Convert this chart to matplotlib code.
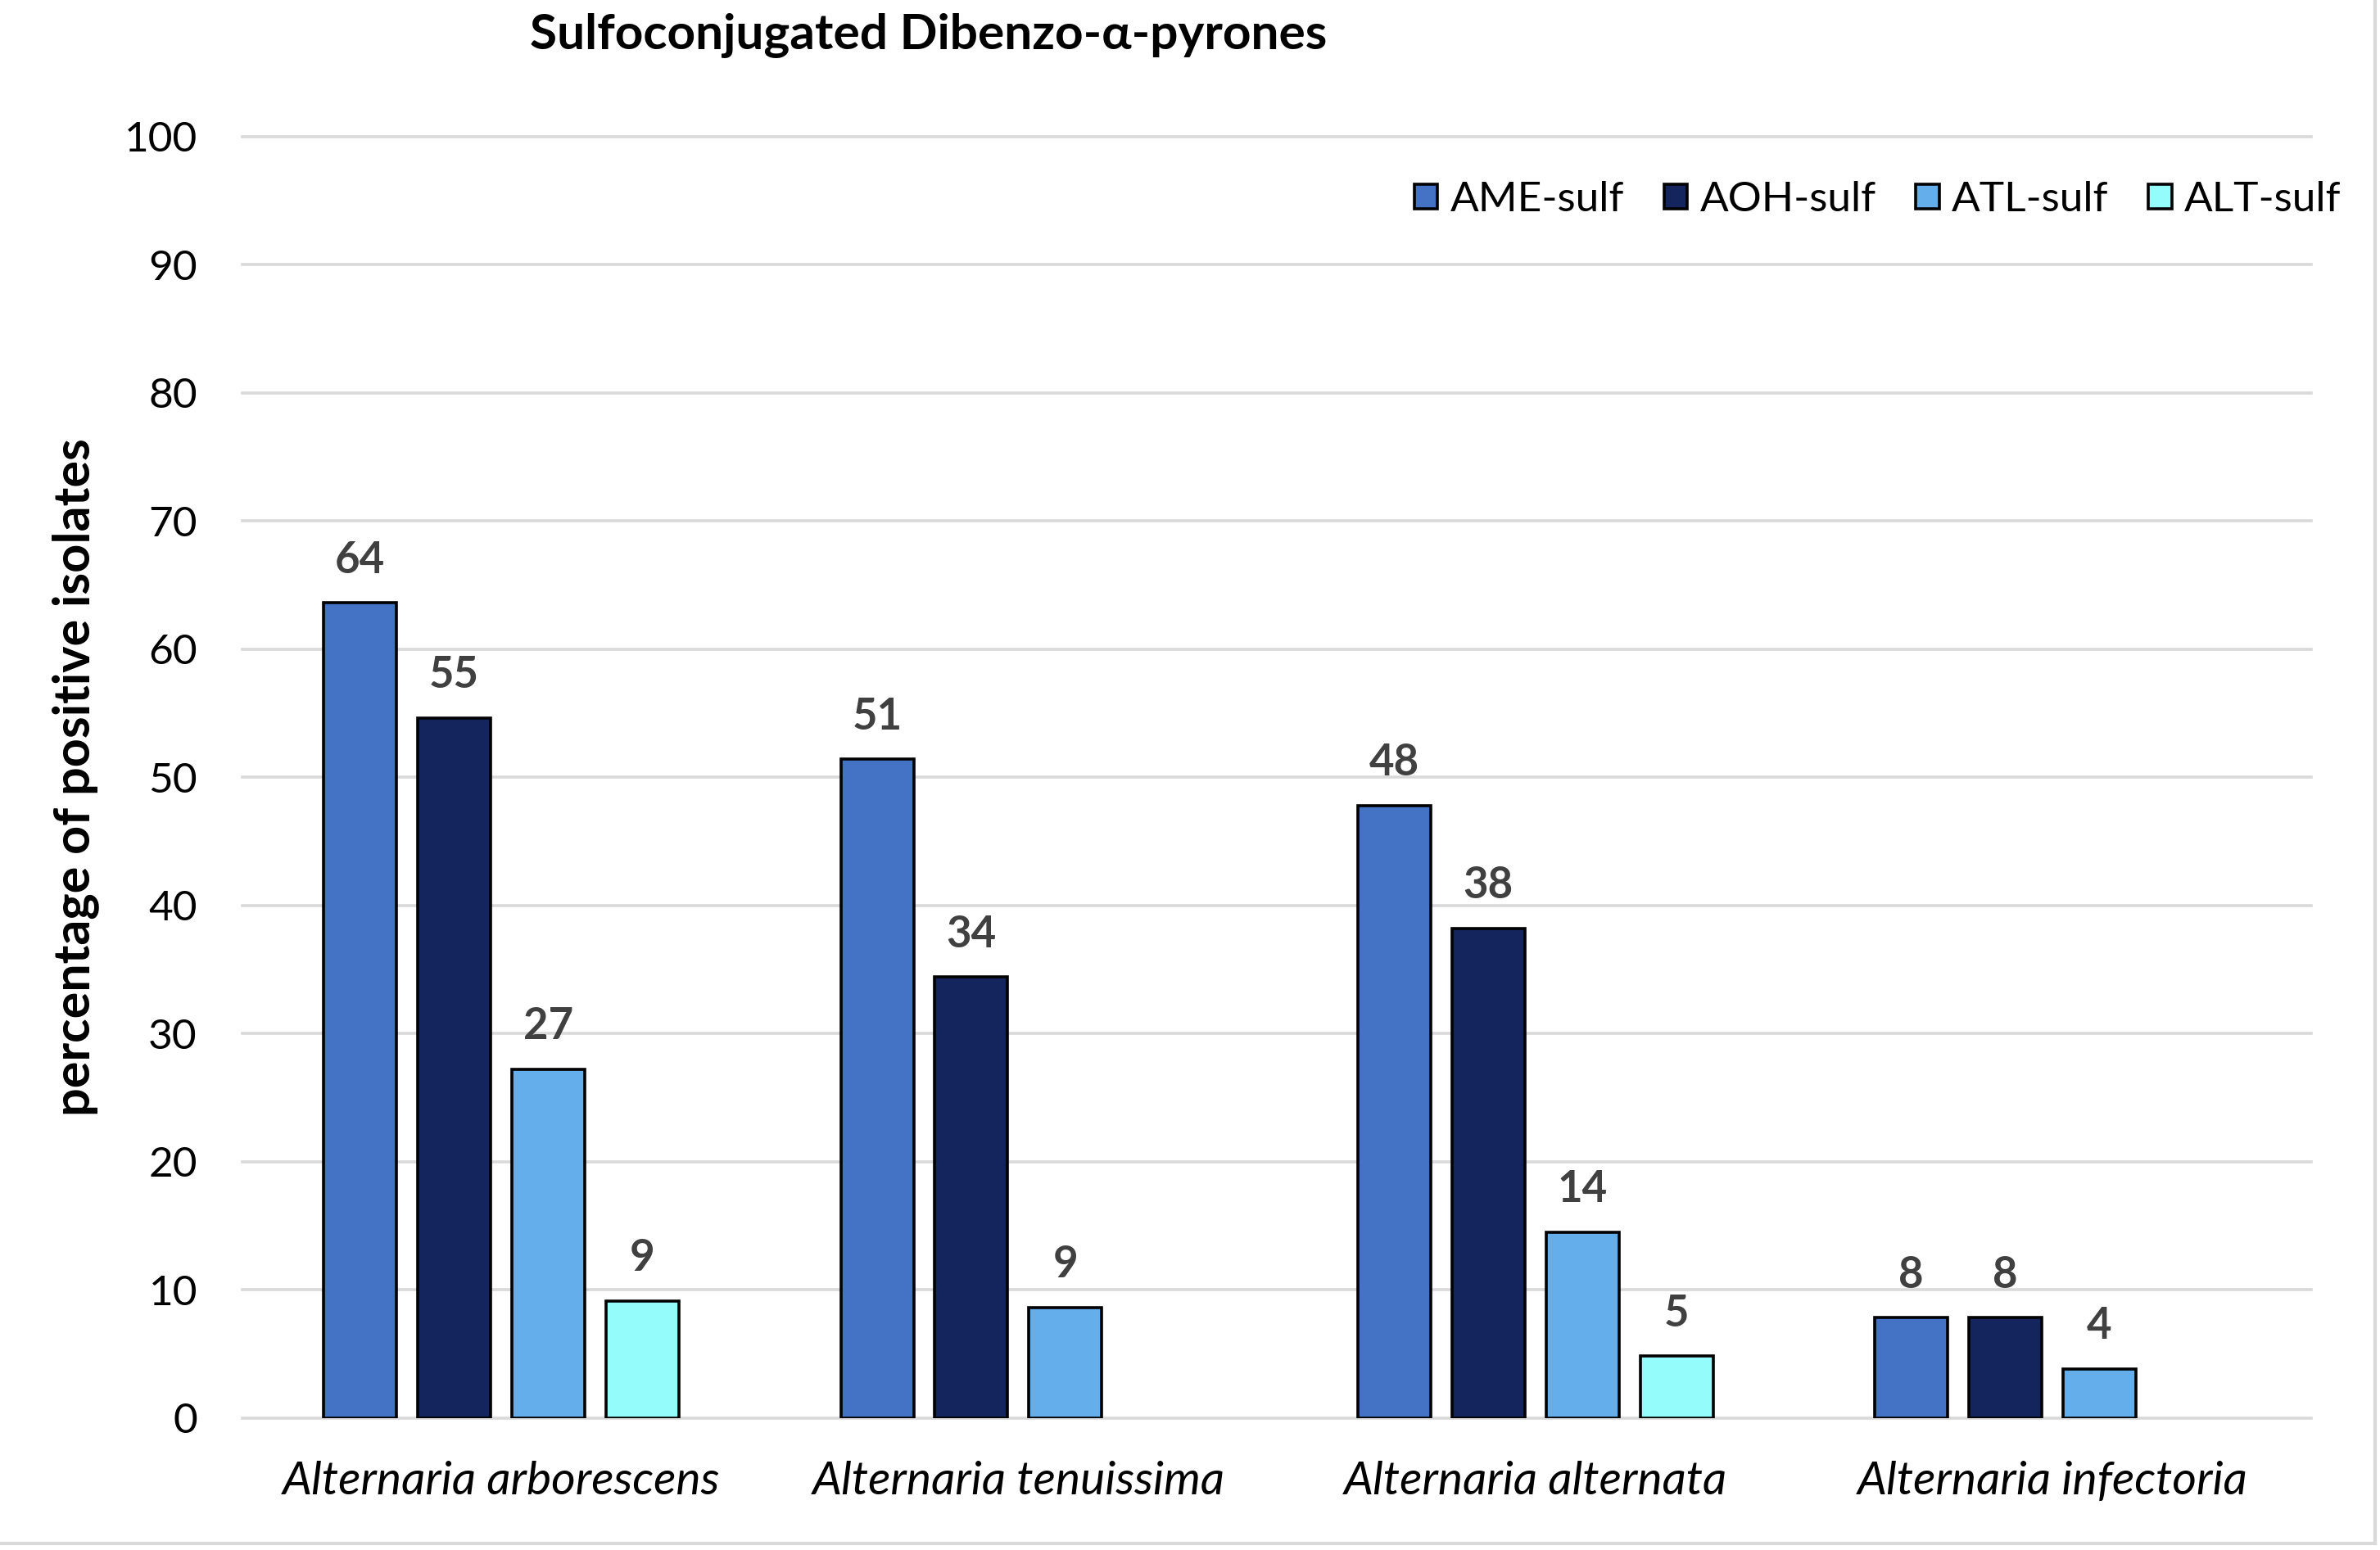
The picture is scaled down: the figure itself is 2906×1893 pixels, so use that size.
import numpy as np
import matplotlib
matplotlib.use('Agg')
import matplotlib.pyplot as plt
from matplotlib.lines import Line2D

plt.rcParams['font.family'] = ['Lato', 'DejaVu Sans']

# datos
especies = ['Alternaria arborescens', 'Alternaria tenuissima',
            'Alternaria alternata', 'Alternaria infectoria']
series = ['AME-sulf', 'AOH-sulf', 'ATL-sulf', 'ALT-sulf']
ame = [63.6, 51.4, 47.8, 7.8]
aoh = [54.6, 34.4, 38.2, 7.8]
atl = [27.2, 8.6, 14.5, 3.8]
alt = [9.1, np.nan, 4.8, np.nan]
colores = ['#4472C4', '#13255C', '#63AEEB', '#95FCFC']
yticks = [0, 10, 20, 30, 40, 50, 60, 70, 80, 90, 100]

fig = plt.figure(figsize=(29.06, 18.93), dpi=100)
ax = fig.add_axes([0.102, 0.0853, 0.869, 0.8265])

x = np.arange(len(especies))
paso = 0.182
ancho = 0.141
valores = [ame, aoh, atl, alt]

for i, (nombre, vals, col) in enumerate(zip(series, valores, colores)):
    pos = x + (i - 1.5) * paso
    v = np.array(vals, dtype=float)
    ok = ~np.isnan(v)
    ax.bar(pos[ok], v[ok], ancho, color=col, edgecolor='black',
           linewidth=2.6, label=nombre, zorder=3)
    for px, val in zip(pos[ok], v[ok]):
        ax.annotate(f'{val:.0f}', (px, val), xytext=(0, 20),
                    textcoords='offset points', ha='center', va='bottom',
                    fontsize=38, fontweight='bold', color='#404040')

for t in yticks:
    ax.axhline(t, color='#D9D9D9', linewidth=2.6, zorder=1, clip_on=False)

ax.set_xlim(-0.5, 3.5)
ax.set_ylim(0, 100)
ax.set_yticks(yticks)
ax.set_xticks(x)
ax.set_xticklabels(especies, fontsize=41, style='italic')
ax.tick_params(axis='y', labelsize=37, length=0, pad=40)
ax.tick_params(axis='x', length=0, pad=38)
for s in ax.spines.values():
    s.set_visible(False)

ax.set_ylabel('percentage of positive isolates', fontsize=44,
              fontweight='bold', labelpad=22)

fig.text(0.39, 0.977, 'Sulfoconjugated Dibenzo-\u03b1-pyrones', ha='center',
         va='center', fontsize=43.5, fontweight='bold')

manijas = [plt.Rectangle((0, 0), 1, 1, facecolor=c, edgecolor='black',
                         linewidth=2.6) for c in colores]
fig.legend(manijas, series, loc='center', bbox_to_anchor=(0.789, 0.871),
           ncol=4, frameon=False, fontsize=37, handlelength=0.55,
           handleheight=0.55, handletextpad=0.3, columnspacing=0.95)

# borde del área del gráfico
fig.add_artist(Line2D([0.998, 0.998], [0.004, 1.0], color='#D9D9D9',
                      linewidth=3, transform=fig.transFigure))
fig.add_artist(Line2D([0.0, 0.998], [0.004, 0.004], color='#D9D9D9',
                      linewidth=3, transform=fig.transFigure))

fig.savefig('out.png', dpi=100, facecolor='white')
